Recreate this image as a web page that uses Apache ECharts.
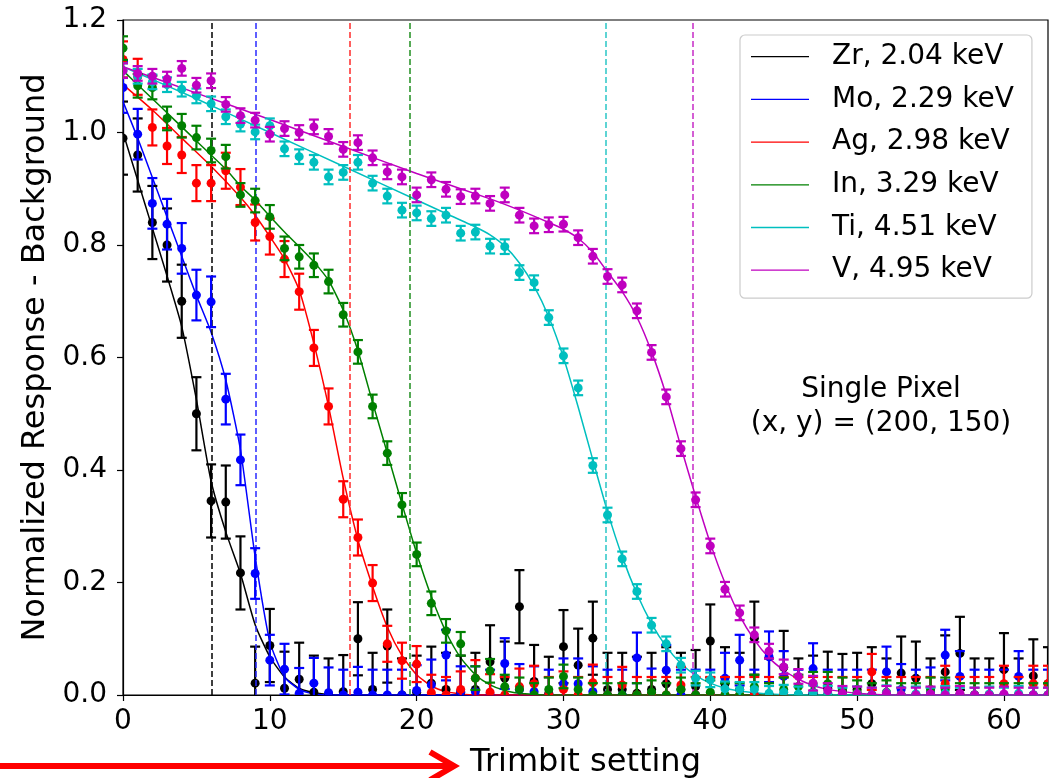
<!DOCTYPE html>
<html><head><meta charset="utf-8">
<script src="https://cdn.jsdelivr.net/npm/echarts@6/dist/echarts.min.js"></script>
<style>html,body{margin:0;padding:0;background:#fff}#c{width:1055px;height:778px}</style>
</head><body><div id="c"></div>
<script>
// ---------------- data ----------------
const trimbit = [0,1,2,3,4,5,6,7,8,9,10,11,12,13,14,15,16,17,18,19,20,21,22,23,24,25,26,27,28,29,30,31,
  32,33,34,35,36,37,38,39,40,41,42,43,44,45,46,47,48,49,50,51,52,53,54,55,56,57,58,59,60,61,62,63];
const xTickValues = [0,10,20,30,40,50,60];
const yTickValues = [0,0.2,0.4,0.6,0.8,1.0,1.2];
const seriesNames = ['Zr, 2.04 keV','Mo, 2.29 keV','Ag, 2.98 keV','In, 3.29 keV','Ti, 4.51 keV','V, 4.95 keV'];

const zrValues = [0.99,0.96,0.84,0.80,0.70,0.50,0.345,0.343,0.217,0.021,0.088,0.012,0.028,0.005,0.0,0.006,
  0.100,0.01,0.087,0.0,0.005,0.021,0.01,0.005,0.01,0.059,0.03,0.157,0.024,0.003,0.086,0.053,
  0.101,0.01,0.01,0.003,0.01,0.02,0.01,0.015,0.096,0.02,0.01,0.101,0.0,0.049,0.0,0.005,
  0.012,0.008,0.01,0.02,0.0,0.039,0.03,0.0,0.041,0.074,0.0,0.0,0.045,0.0,0.034,0.02];
const moValues = [1.08,0.997,0.874,0.837,0.794,0.711,0.699,0.526,0.418,0.216,0.062,0.046,0.003,0.021,0.004,0.0,
  0.005,0.0,0.0,0.0,0.008,0.018,0.071,0.006,0.006,0.0,0.056,0.01,0.006,0.0,0.02,0.02,
  0.006,0.0,0.0,0.066,0.002,0.044,0.0,0.0,0.0,0.03,0.062,0.0,0.068,0.033,0.0,0.047,
  0.0,0.0,0.0,0.0,0.041,0.01,0.0,0.004,0.071,0.033,0.0,0.0,0.0,0.033,0.0,0.0];
const agValues = [1.13,1.099,1.009,0.976,0.960,0.910,0.910,0.932,0.903,0.840,0.815,0.775,0.717,0.617,0.513,0.348,
  0.280,0.199,0.091,0.061,0.055,0.004,0.0,0.01,0.03,0.005,0.0,0.015,0.02,0.0,0.01,0.0,
  0.022,0.0,0.018,0.0,0.0,0.0,0.018,0.0,0.0,0.0,0.0,0.0,0.0,0.0,0.0,0.0,
  0.0,0.0,0.0,0.041,0.0,0.0,0.0,0.0,0.02,0.0,0.0,0.0,0.02,0.0,0.02,0.02];
const inValues = [1.15,1.083,1.080,1.025,1.012,0.991,0.968,0.957,0.889,0.879,0.850,0.794,0.779,0.764,0.735,0.676,
  0.610,0.513,0.430,0.338,0.250,0.163,0.114,0.091,0.030,0.043,0.015,0.01,0.0,0.01,0.033,0.01,
  0.0,0.0,0.0,0.0,0.005,0.0,0.01,0.0,0.005,0.0,0.0,0.015,0.0,0.01,0.015,0.02,
  0.02,0.01,0.005,0.0,0.005,0.0,0.0,0.01,0.01,0.0,0.0,0.0,0.0,0.0,0.0,0.0];
const tiValues = [1.11,1.10,1.09,1.085,1.077,1.065,1.051,1.028,1.015,1.001,1.012,0.971,0.957,0.947,0.921,0.929,
  0.947,0.910,0.887,0.862,0.857,0.847,0.853,0.821,0.823,0.798,0.797,0.751,0.733,0.671,0.603,0.546,
  0.408,0.320,0.242,0.184,0.124,0.091,0.053,0.030,0.027,0.011,0.010,0.01,0.003,0.005,0.002,0.004,
  0.003,0.0,0.002,0.0,0.004,0.0,0.002,0.0,0.003,0.0,0.0,0.002,0.0,0.003,0.0,0.0];
const vValues = [1.11,1.105,1.10,1.095,1.114,1.084,1.092,1.050,1.030,1.022,0.997,1.007,1.000,1.010,0.993,0.970,
  0.982,0.955,0.930,0.921,0.889,0.916,0.899,0.886,0.887,0.874,0.889,0.853,0.834,0.836,0.837,0.813,
  0.780,0.744,0.729,0.683,0.609,0.530,0.438,0.347,0.265,0.188,0.146,0.107,0.078,0.050,0.033,0.021,
  0.008,0.003,0.002,0.0,0.003,0.0,0.0,0.002,0.0,0.003,0.0,0.0,0.002,0.0,0.0,0.0];

// half-widths of the error bars per series
const errorHalfWidths = [0.065,0.045,0.032,0.021,0.013,0.013];

// fitted curves, read as [trimbit, response] points
const zrFit = [[0,1.0],[1,0.915],[2,0.83],[3,0.745],[4,0.655],[5,0.525],[6,0.38],[7,0.29],[8,0.216],[9,0.125],
  [10,0.068],[11,0.032],[12,0.012],[13,0.004],[14,0.001],[15,0],[63,0]];
const moFit = [[0,1.055],[1,0.99],[2,0.92],[3,0.85],[4,0.78],[5,0.71],[6,0.645],[7,0.56],[8,0.436],[9,0.246],
  [10,0.095],[11,0.032],[12,0.01],[13,0.002],[14,0],[63,0]];
const agFit = [[0,1.085],[2,1.04],[4,0.99],[6,0.94],[8,0.885],[9,0.853],[10,0.815],[11,0.775],[12,0.72],[13,0.625],
  [14,0.513],[15,0.385],[16,0.276],[17,0.193],[18,0.121],[19,0.07],[20,0.036],[21,0.016],[22,0.006],[23,0.002],[24,0],[63,0]];
const inFit = [[0,1.11],[1,1.085],[2,1.06],[3,1.035],[4,1.01],[5,0.985],[6,0.96],[7,0.935],[8,0.905],[9,0.88],
  [10,0.851],[11,0.823],[12,0.797],[13,0.77],[14,0.737],[15,0.684],[16,0.612],[17,0.52],[18,0.43],[19,0.34],
  [20,0.252],[21,0.175],[22,0.112],[23,0.066],[24,0.036],[25,0.018],[26,0.008],[27,0.003],[28,0.001],[29,0],[63,0]];
const tiFit = [[0,1.117],[5,1.06],[10,1.0],[15,0.94],[20,0.88],[22,0.856],[24,0.832],[25,0.818],[26,0.798],[27,0.768],
  [28,0.727],[29,0.672],[30,0.6],[31,0.512],[32,0.418],[33,0.326],[34,0.246],[35,0.18],[36,0.127],[37,0.086],
  [38,0.056],[39,0.035],[40,0.021],[41,0.012],[42,0.007],[43,0.004],[44,0.002],[46,0],[63,0]];
const vFit = [[0,1.117],[5,1.07],[10,1.023],[15,0.975],[20,0.927],[25,0.882],[27,0.862],[29,0.84],[30,0.828],[31,0.812],
  [32,0.787],[33,0.752],[34,0.717],[35,0.672],[36,0.61],[37,0.533],[38,0.441],[39,0.353],[40,0.27],[41,0.199],
  [42,0.141],[43,0.098],[44,0.066],[45,0.044],[46,0.028],[47,0.017],[48,0.01],[49,0.006],[50,0.003],[52,0],[63,0]];

// threshold positions (vertical dashed lines)
const thresholds = [6.05, 9.05, 15.42, 19.52, 32.86, 38.82];

const annotationLines = ['Single Pixel', '(x, y) = (200, 150)'];
const axisTitles = {x: 'Trimbit setting', y: 'Normalized Response - Background'};

// ---------------- styling ----------------
const colors = ['#000000','#0000ff','#ff0000','#008000','#00bfbf','#bf00bf'];
const dashColors = ['#000000','#2a2aff','#ff2a2a','#1f8f1f','#2ac6c6','#c62ac6'];
const FONT = 'DejaVu Sans';
const pointValues = [zrValues, moValues, agValues, inValues, tiValues, vValues];
const fits = [zrFit, moFit, agFit, inFit, tiFit, vFit];

function makeErrorRenderer(color) {
  return function (params, api) {
    const x = api.value(0), y = api.value(1), e = api.value(2);
    const top = api.coord([x, y + e]);
    const bot = api.coord([x, y - e]);
    const c = api.coord([x, y]);
    const half = 5;
    const st = {stroke: color, lineWidth: 2.2};
    return {
      type: 'group',
      children: [
        {type: 'line', shape: {x1: top[0], y1: top[1], x2: bot[0], y2: bot[1]}, style: st},
        {type: 'line', shape: {x1: top[0] - half, y1: top[1], x2: top[0] + half, y2: top[1]}, style: st},
        {type: 'line', shape: {x1: bot[0] - half, y1: bot[1], x2: bot[0] + half, y2: bot[1]}, style: st},
        {type: 'circle', shape: {cx: c[0], cy: c[1], r: 4.5}, style: {fill: color}}
      ]
    };
  };
}

const series = [];
// fit lines (these carry the legend)
seriesNames.forEach((name, i) => {
  const s = {
    name: name,
    type: 'line',
    data: fits[i],
    smooth: 0.2,
    symbol: 'none',
    lineStyle: {color: colors[i], width: 1.5},
    itemStyle: {color: colors[i]},
    z: 3,
    silent: true,
    animation: false
  };
  if (i === 0) {
    s.markLine = {
      silent: true,
      symbol: ['none', 'none'],
      label: {show: false},
      animation: false,
      data: thresholds.map((t, k) => ({
        xAxis: t,
        lineStyle: {color: dashColors[k], type: [6, 3], width: 1.5}
      }))
    };
  }
  series.push(s);
});
// points with error bars
seriesNames.forEach((name, i) => {
  series.push({
    name: name + ' data',
    type: 'custom',
    renderItem: makeErrorRenderer(colors[i]),
    data: trimbit.map((t, k) => [t, pointValues[i][k], errorHalfWidths[i]]),
    encode: {x: 0, y: 1},
    clip: true,
    z: 4 + i,
    silent: true,
    animation: false
  });
});

const legendIcon = 'path://M0,0H100V2.2H0Z';

const chart = echarts.init(document.getElementById('c'), null, {renderer: 'canvas'});
chart.setOption({
  backgroundColor: '#ffffff',
  animation: false,
  grid: {left: 123, right: 7, top: 20, bottom: 83, show: true, borderColor: '#000', borderWidth: 1.2,
    backgroundColor: 'transparent', containLabel: false, outerBoundsMode: 'none'},
  xAxis: {
    type: 'value', min: 0, max: 63,
    name: axisTitles.x, nameLocation: 'middle', nameGap: 52,
    nameTextStyle: {fontFamily: FONT, fontSize: 32, color: '#000'},
    axisLine: {show: true, onZero: false, lineStyle: {color: '#000', width: 1.2}},
    axisTick: {show: true, length: 6, inside: false, customValues: xTickValues, lineStyle: {color: '#000', width: 1.2}},
    axisLabel: {customValues: xTickValues, fontFamily: FONT, fontSize: 28, color: '#000', margin: 13},
    splitLine: {show: false}
  },
  yAxis: {
    type: 'value', min: 0, max: 1.2, interval: 0.2,
    name: axisTitles.y, nameLocation: 'middle', nameGap: 68,
    nameTextStyle: {fontFamily: FONT, fontSize: 32, color: '#000'},
    axisLine: {show: true, lineStyle: {color: '#000', width: 1.2}},
    axisTick: {show: true, length: 6, customValues: yTickValues, lineStyle: {color: '#000', width: 1.2}},
    axisLabel: {customValues: yTickValues, fontFamily: FONT, fontSize: 28, color: '#000', margin: 16,
      formatter: v => v.toFixed(1)},
    splitLine: {show: false}
  },
  legend: {
    data: seriesNames.map(n => ({name: n, icon: legendIcon})),
    orient: 'vertical',
    left: 740, top: 35,
    itemWidth: 58, itemHeight: 14,
    itemGap: 12.7,
    padding: [6.7, 18, 13, 11],
    backgroundColor: '#ffffff',
    borderColor: '#cccccc', borderWidth: 1.2, borderRadius: 5,
    textStyle: {fontFamily: FONT, fontSize: 28, color: '#000', lineHeight: 30, padding: [0, 0, 0, 18]},
    selectedMode: false
  },
  graphic: [
    {type: 'text', x: 881, y: 390, style: {text: annotationLines[0], font: '28px "DejaVu Sans"', fill: '#000', textAlign: 'center', textVerticalAlign: 'middle'}, silent: true},
    {type: 'text', x: 881, y: 424, style: {text: annotationLines[1], font: '28px "DejaVu Sans"', fill: '#000', textAlign: 'center', textVerticalAlign: 'middle'}, silent: true},
    {type: 'line', shape: {x1: 0, y1: 766, x2: 452, y2: 766}, style: {stroke: '#ff0000', lineWidth: 6}, silent: true},
    {type: 'polyline', shape: {points: [[430, 752], [454, 766], [430, 780]]}, style: {stroke: '#ff0000', lineWidth: 6, fill: null, lineJoin: 'miter'}, silent: true}
  ],
  series: series
});
</script>
</body></html>
